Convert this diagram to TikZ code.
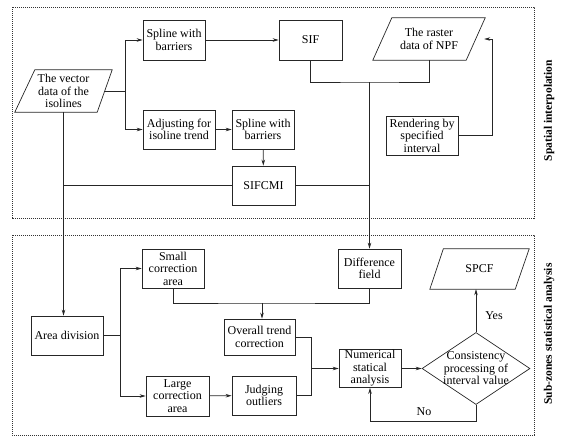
\documentclass[tikz,border=0pt]{standalone}
\usepackage{fontspec}
\setmainfont{Liberation Serif}
\usetikzlibrary{shapes.geometric,arrows.meta,calc}
\begin{document}
\begin{tikzpicture}[x=1pt,y=-1pt,
  font=\fontsize{12}{12.5}\selectfont,
  ln/.style={line width=0.7pt, draw=black!85},
  box/.style={ln, rectangle, align=center, inner sep=1pt},
  pbox/.style={rectangle, align=center, inner sep=1pt},
  arr/.style={ln, -{Stealth[length=6pt,width=3.5pt]}},
  frame/.style={draw=black!80, dash pattern=on 1.2pt off 0.8pt, line width=0.5pt},
  side/.style={rotate=90, font=\bfseries\fontsize{11.5}{12}\selectfont}]
\useasboundingbox (0,0) rectangle (569,447);
% frames
\draw[frame] (12,7) rectangle (534,218);
\draw[frame] (12,235) rectangle (534,435);
\node[side] (lab1) at (549,110.5) {Spatial interpolation};
\node[side] (lab2) at (549,334) {Sub-zones statistical analysis};
% top nodes
\node[pbox, minimum width=97, minimum height=42] (vec) at (63.5,91) {The vector\\data of the\\isolines};
\draw[ln] (vec.south west) -- ($(vec.north west)+(20,0)$) -- (vec.north east) -- ($(vec.south east)+(-15,0)$) -- cycle;
\node[box, minimum width=62, minimum height=40] (sp1) at (174,40) {Spline with\\barriers};
\node[box, minimum width=63, minimum height=40] (sif) at (310.5,40) {SIF};
\node[pbox, minimum width=112, minimum height=42] (raster) at (429,39) {The raster\\data of NPF};
\draw[ln] (raster.south west) -- ($(raster.north west)+(19,0)$) -- (raster.north east) -- ($(raster.south east)+(-19,0)$) -- cycle;
\node[box, minimum width=72, minimum height=39] (adj) at (179,129.5) {Adjusting for\\isoline trend};
\node[box, minimum width=62, minimum height=39] (sp2) at (263,129.5) {Spline with\\barriers};
\node[box, minimum width=63, minimum height=39] (sifc) at (263.5,185.5) {SIFCMI};
\node[box, minimum width=72, minimum height=39] (rend) at (422,135.5) {Rendering by\\specified\\interval};
% bottom nodes
\node[box, minimum width=72, minimum height=39] (area) at (67,335.5) {Area division};
\node[box, minimum width=62, minimum height=39] (small) at (173,268.5) {Small\\correction\\area};
\node[box, minimum width=71, minimum height=36] (overall) at (259.5,337) {Overall trend\\correction};
\node[box, minimum width=63, minimum height=40] (large) at (177.5,396) {Large\\correction\\area};
\node[box, minimum width=64, minimum height=39] (judge) at (264,395.5) {Judging\\outliers};
\node[box, minimum width=63, minimum height=39] (diff) at (369.5,268.5) {Difference\\field};
\node[pbox, minimum width=99, minimum height=40] (spcf) at (479.5,269) {SPCF};
\draw[ln] (spcf.south west) -- ($(spcf.north west)+(13.5,0)$) -- (spcf.north east) -- ($(spcf.south east)+(-14,0)$) -- cycle;
\node[box, minimum width=62, minimum height=38] (num) at (370,368.5) {Numerical\\statical\\analysis};
\node[ln, diamond, minimum width=108, minimum height=72, inner sep=0pt] (dia) at (476,368.5) {};
\node[align=center, inner sep=0pt] (diat) at (dia.center) {Consistency\\processing of\\interval value};
% top connectors
\coordinate (j1) at (125,91);
\draw[ln] ($(vec.east)+(-8,0)$) -- (j1);
\draw[arr] (j1) |- (sp1.west);
\draw[arr] (j1) |- (adj.west);
\draw[arr] (sp1) -- (sif);
\draw[arr] (adj) -- (sp2);
\draw[arr] (sp2) -- (sifc);
\coordinate (j2) at (369.5,82);
\draw[ln] (sif.south) |- (j2) -| (raster.south);
\draw[arr] (j2) -- (diff.north);
\draw[ln] (sifc.east) -- (sifc.east -| j2);
\draw[ln] (sifc.west) -- (sifc.west -| vec.south);
\draw[arr] (vec.south) -- (vec.south |- area.north);
\draw[arr] (rend.east) -- ++(34,0) |- ($(raster.east)+(-1,0)$);
% bottom connectors
\coordinate (j4) at (120,335.5);
\draw[ln] (area.east) -- (j4);
\draw[arr] (j4) |- (small.west);
\draw[arr] (j4) |- (large.west);
\coordinate (j5) at (262,303);
\draw[ln] (small.south) |- (j5) -| (diff.south);
\draw[arr] (j5) -- (j5 |- overall.north);
\draw[arr] (large) -- (judge);
\coordinate (j6) at (311,368.5);
\draw[ln] (overall.east) -| (j6);
\draw[ln] (judge.east) -| (j6);
\draw[arr] (j6) -- (num.west);
\draw[arr] (num.east) -- (dia.west);
\draw[arr] (dia.north) -- (dia.north |- spcf.south);
\node (yes) at (494,316) {Yes};
\draw[arr] (dia.south) -- ++(0,16) -| (num.south);
\node (no) at (424,412) {No};
\end{tikzpicture}
\end{document}
